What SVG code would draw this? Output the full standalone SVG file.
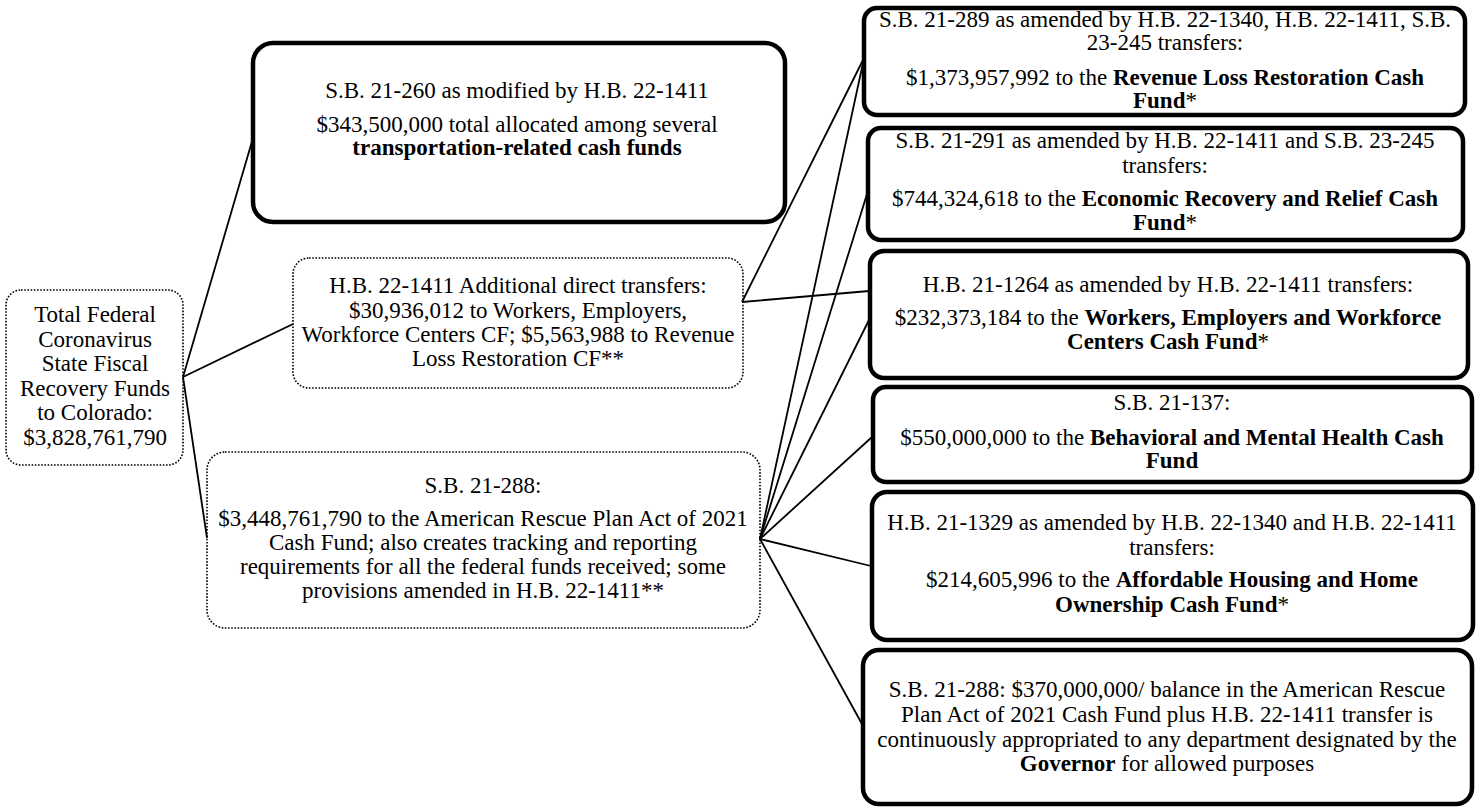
<svg xmlns="http://www.w3.org/2000/svg" width="1478" height="807" viewBox="0 0 1478 807">
<style>
.thick{fill:#fff;stroke:#000;stroke-width:4.5}
.dot{fill:#fff;stroke:#000;stroke-width:1.6;stroke-dasharray:1.6 1.6}
.conn line{stroke:#000;stroke-width:1.8}
text{font-family:"Liberation Serif","Times New Roman",serif;font-size:23px;fill:#000;text-anchor:middle}
.b{font-weight:bold}
</style>
<rect width="1478" height="807" fill="#fff"/>
<g id="n-total">
<rect class="dot" x="6" y="290" width="177" height="175" rx="15"/>
<text font-size="22.5" x="95"><tspan x="95" y="322">Total Federal</tspan><tspan x="95" y="347">Coronavirus</tspan><tspan x="95" y="371">State Fiscal</tspan><tspan x="95" y="396">Recovery Funds</tspan><tspan x="95" y="420">to Colorado:</tspan><tspan x="95" y="445">$3,828,761,790</tspan></text>
</g>
<g id="n-sb260">
<rect class="thick" x="253" y="43" width="532" height="179" rx="20"/>
<text x="517" y="98" font-size="21.6">S.B. 21-260 as modified by H.B. 22-1411</text>
<text x="517" y="132" font-size="21.6">$343,500,000 total allocated among several</text>
<text x="517" y="155" font-size="21.6" class="b">transportation-related cash funds</text>
</g>
<g id="n-hb1411">
<rect class="dot" x="293" y="258" width="450" height="130" rx="16"/>
<text x="518" y="293">H.B. 22-1411 Additional direct transfers:</text>
<text x="518" y="318">$30,936,012 to Workers, Employers,</text>
<text x="518" y="342">Workforce Centers CF; $5,563,988 to Revenue</text>
<text x="518" y="366">Loss Restoration CF**</text>
</g>
<g id="n-sb288">
<rect class="dot" x="207" y="452" width="553" height="176" rx="18"/>
<text x="483" y="493">S.B. 21-288:</text>
<text x="483" y="526">$3,448,761,790 to the American Rescue Plan Act of 2021</text>
<text x="483" y="550">Cash Fund; also creates tracking and reporting</text>
<text x="483" y="574">requirements for all the federal funds received; some</text>
<text x="483" y="598">provisions amended in H.B. 22-1411**</text>
</g>
<g id="n-sb289">
<rect class="thick" x="864" y="8" width="601" height="107" rx="13"/>
<text x="1165" y="27">S.B. 21-289 as amended by H.B. 22-1340, H.B. 22-1411, S.B.</text>
<text x="1165" y="50">23-245 transfers:</text>
<text x="1165" y="85">$1,373,957,992 to the <tspan class="b">Revenue Loss Restoration Cash</tspan></text>
<text x="1165" y="108"><tspan class="b">Fund</tspan>*</text>
</g>
<g id="n-sb291">
<rect class="thick" x="868" y="128" width="595" height="112" rx="13"/>
<text x="1165" y="148">S.B. 21-291 as amended by H.B. 22-1411 and S.B. 23-245</text>
<text x="1165" y="173">transfers:</text>
<text x="1165" y="206">$744,324,618 to the <tspan class="b">Economic Recovery and Relief Cash</tspan></text>
<text x="1165" y="230"><tspan class="b">Fund</tspan>*</text>
</g>
<g id="n-hb1264">
<rect class="thick" x="870" y="251" width="598" height="127" rx="14"/>
<text x="1168" y="292">H.B. 21-1264 as amended by H.B. 22-1411 transfers:</text>
<text x="1168" y="325">$232,373,184 to the <tspan class="b">Workers, Employers and Workforce</tspan></text>
<text x="1168" y="349"><tspan class="b">Centers Cash Fund</tspan>*</text>
</g>
<g id="n-sb137">
<rect class="thick" x="873" y="387" width="599" height="95" rx="13"/>
<text x="1172" y="410">S.B. 21-137:</text>
<text x="1172" y="445">$550,000,000 to the <tspan class="b">Behavioral and Mental Health Cash</tspan></text>
<text x="1172" y="468" class="b">Fund</text>
</g>
<g id="n-hb1329">
<rect class="thick" x="872" y="492" width="601" height="148" rx="15"/>
<text x="1172" y="530">H.B. 21-1329 as amended by H.B. 22-1340 and H.B. 22-1411</text>
<text x="1172" y="555">transfers:</text>
<text x="1172" y="587">$214,605,996 to the <tspan class="b">Affordable Housing and Home</tspan></text>
<text x="1172" y="612"><tspan class="b">Ownership Cash Fund</tspan>*</text>
</g>
<g id="n-governor">
<rect class="thick" x="863" y="650" width="609" height="154" rx="16"/>
<text x="1167" y="697">S.B. 21-288: $370,000,000/ balance in the American Rescue</text>
<text x="1167" y="722">Plan Act of 2021 Cash Fund plus H.B. 22-1411 transfer is</text>
<text x="1167" y="747">continuously appropriated to any department designated by the</text>
<text x="1167" y="771"><tspan class="b">Governor</tspan> for allowed purposes</text>
</g>
<g id="connectors" class="conn">
<line x1="183" y1="377" x2="253" y2="138"/>
<line x1="183" y1="377" x2="293" y2="324"/>
<line x1="183" y1="377" x2="207" y2="538"/>
<line x1="742" y1="302" x2="863" y2="60"/>
<line x1="742" y1="302" x2="869" y2="291"/>
<line x1="760" y1="539" x2="863" y2="63"/>
<line x1="760" y1="539" x2="867" y2="194"/>
<line x1="760" y1="539" x2="869" y2="320"/>
<line x1="760" y1="539" x2="872" y2="437"/>
<line x1="760" y1="539" x2="871" y2="566"/>
<line x1="760" y1="539" x2="862" y2="724"/>
</g>
</svg>
